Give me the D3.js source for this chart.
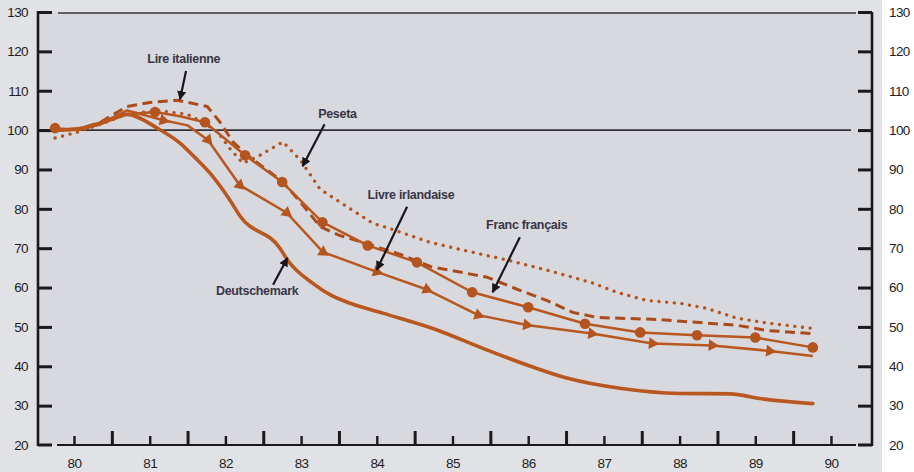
<!DOCTYPE html>
<html><head><meta charset="utf-8">
<script src="https://cdn.jsdelivr.net/npm/d3@7/dist/d3.min.js"></script>
<style>
html,body{margin:0;padding:0;background:#fff;}
svg{display:block;}
</style></head>
<body>
<svg id="c" width="914" height="472"></svg>
<script>
// ---- data (years as decimal, values index 1980 = 100) ----
const yearTicks = [80, 81, 82, 83, 84, 85, 86, 87, 88, 89, 90];
const valueTicks = [20, 30, 40, 50, 60, 70, 80, 90, 100, 110, 120, 130];

const dmT = [79.75, 80.05, 80.35, 80.70, 81.10, 81.40, 81.60, 81.80, 82.05, 82.20, 82.72, 82.82, 83.16, 83.40, 83.65, 84.08, 84.74, 85.46, 86.06, 86.51, 87.21, 88.00, 88.67, 89.06, 89.76];
const dmV = [100, 100.3, 101.8, 104, 100.5, 96.7, 93, 89, 82.5, 78, 70, 67, 61, 58, 56, 53.5, 49.6, 44.1, 39.8, 37, 34.4, 33.1, 33, 31.8, 30.5];

const frT = [79.75, 80.05, 80.35, 80.70, 81.07, 81.40, 81.73, 82.26, 82.75, 83.28, 83.88, 84.53, 85.26, 86.00, 86.75, 87.48, 88.23, 89.00, 89.76];
const frV = [100.5, 100, 101.5, 104, 104.6, 103.5, 102, 93.6, 86.8, 76.6, 70.7, 66.4, 58.8, 55, 50.8, 48.6, 47.9, 47.3, 44.8];
const frMarked = [1, 0, 0, 0, 1, 0, 1, 1, 1, 1, 1, 1, 1, 1, 1, 1, 1, 1, 1];

const ieT = [79.75, 80.05, 80.35, 80.70, 81.18, 81.50, 81.77, 82.19, 82.81, 83.29, 84.00, 84.66, 85.34, 85.98, 86.84, 87.64, 88.43, 89.19, 89.76];
const ieV = [100, 100, 101.5, 105, 102.5, 101.2, 97.5, 86, 79, 69, 64, 59.5, 53, 50.5, 48.3, 45.8, 45.3, 43.9, 42.6];
const ieMarked = [0, 0, 0, 0, 1, 0, 1, 1, 1, 1, 1, 1, 1, 1, 1, 1, 1, 1, 0];

const itT = [79.75, 80.05, 80.35, 80.70, 81.00, 81.36, 81.76, 81.93, 82.10, 82.26, 82.75, 83.00, 83.25, 83.50, 83.91, 84.30, 84.73, 84.97, 85.46, 85.89, 86.25, 86.59, 86.91, 87.70, 88.27, 88.76, 89.15, 89.76];
const itV = [100, 100.2, 102, 106, 107, 107.6, 106, 102, 97, 94, 87, 81.5, 75.5, 73.3, 70.9, 68.5, 65.2, 64.4, 62.6, 59.3, 56.7, 53.7, 52.4, 51.9, 51.1, 50.4, 49.1, 48.3];

const esT = [79.75, 80.05, 80.35, 80.70, 81.10, 81.50, 81.70, 81.90, 82.05, 82.23, 82.42, 82.76, 82.99, 83.25, 83.61, 83.95, 84.17, 84.70, 85.14, 85.72, 86.25, 86.59, 86.86, 87.17, 87.57, 88.01, 88.36, 88.76, 89.15, 89.76];
const esV = [98, 99.5, 101.5, 104, 105, 104, 102, 99.5, 95.5, 91.6, 93.2, 97, 92.4, 85, 80.5, 76.3, 75, 71.5, 69.5, 67, 64.4, 62.6, 61.1, 58.8, 56.7, 56, 54.7, 52.2, 51, 49.6];

// labels: [text, year, value] for text anchor; arrows: [fromYear, fromValue, toYear, toValue]
const labelNames = ["Lire italienne", "Peseta", "Livre irlandaise", "Franc français", "Deutschemark"];
const labelPos = [[81.45, 117.8], [83.48, 103.8], [84.45, 83.4], [85.98, 75.8], [82.42, 59]];
const arrowFrom = [[81.48, 115], [83.31, 101.5], [84.40, 80.5], [85.89, 72.8], [82.63, 60.7]];
const arrowTo = [[81.40, 107.8], [83.02, 90.8], [84.00, 64.5], [85.53, 58.8], [82.82, 67.5]];

// ---- drawing ----
const svg = d3.select("#c");
const x = d3.scaleLinear().domain([80, 90]).range([74, 831]);
const y = d3.scaleLinear().domain([20, 130]).range([445, 12]);
const LEFT = 38, RIGHT = 872, TOP = y(130), BOT = y(20);
const axisCol = "#1c181c";
const lineCol = "#b8571f";

svg.append("rect").attr("x", 0).attr("y", 0).attr("width", 882).attr("height", 472).attr("fill", "#e1e2e6");
svg.append("rect").attr("x", LEFT).attr("y", TOP).attr("width", RIGHT - LEFT).attr("height", BOT - TOP).attr("fill", "#d7d9df");

// reference line at 100
svg.append("line").attr("x1", LEFT).attr("x2", 851).attr("y1", y(100)).attr("y2", y(100))
  .attr("stroke", "#34323a").attr("stroke-width", 1.6);

// frame lines
const frame = svg.append("g").attr("stroke", axisCol).attr("fill", "none");
frame.append("line").attr("x1", LEFT).attr("x2", LEFT).attr("y1", TOP - 1).attr("y2", BOT + 1).attr("stroke-width", 2.6);
frame.append("line").attr("x1", RIGHT).attr("x2", RIGHT).attr("y1", TOP).attr("y2", BOT + 1).attr("stroke-width", 2.6);
frame.append("line").attr("x1", 57).attr("x2", 856).attr("y1", BOT).attr("y2", BOT).attr("stroke-width", 2);
frame.append("line").attr("x1", LEFT).attr("x2", 52).attr("y1", BOT).attr("y2", BOT).attr("stroke-width", 3);
frame.append("line").attr("x1", 858).attr("x2", RIGHT).attr("y1", BOT).attr("y2", BOT).attr("stroke-width", 3);
frame.append("line").attr("x1", 58).attr("x2", 856).attr("y1", TOP + 1).attr("y2", TOP + 1).attr("stroke-width", 1.5).attr("stroke", "#3a373d");

const fontFam = "'Liberation Sans', Arial, sans-serif";
function styleAxis(g) {
  g.select(".domain").remove();
  g.selectAll(".tick line").attr("stroke", axisCol).attr("stroke-width", 3);
  g.selectAll(".tick text").attr("fill", "#1e1e22").style("font-family", fontFam)
    .style("font-size", "13.5px").style("letter-spacing", "-0.6px");
}

// left axis (ticks inside)
svg.append("g").attr("transform", `translate(${LEFT},0)`)
  .call(d3.axisLeft(y).tickValues(valueTicks.filter(v => v > 20)).tickSize(-14).tickPadding(10).tickFormat(d3.format("d")))
  .call(styleAxis);
svg.append("g").attr("transform", `translate(${LEFT},0)`)
  .call(d3.axisLeft(y).tickValues([20]).tickSize(0).tickPadding(10).tickFormat(d3.format("d")))
  .call(styleAxis);
// right axis
svg.append("g").attr("transform", `translate(${RIGHT},0)`)
  .call(d3.axisRight(y).tickValues(valueTicks.filter(v => v > 20)).tickSize(-14).tickPadding(17).tickFormat(d3.format("d")))
  .call(styleAxis);
svg.append("g").attr("transform", `translate(${RIGHT},0)`)
  .call(d3.axisRight(y).tickValues([20]).tickSize(0).tickPadding(17).tickFormat(d3.format("d")))
  .call(styleAxis);
// bottom axis: minor ticks with labels, major ticks at half years
svg.append("g").attr("transform", `translate(0,${BOT})`)
  .call(d3.axisBottom(x).tickValues(yearTicks).tickSize(-9).tickPadding(13).tickFormat(d3.format("d")))
  .call(styleAxis)
  .call(g => g.selectAll(".tick line").attr("stroke-width", 2.4));
svg.append("g").attr("transform", `translate(0,${BOT})`)
  .call(d3.axisBottom(x).tickValues(yearTicks.slice(0, -1).map(v => v + 0.5)).tickSize(-14).tickFormat(""))
  .call(styleAxis);

// series
const mk = (T, V) => T.map((t, i) => [t, V[i]]);
const line = d3.line().x(d => x(d[0])).y(d => y(d[1])).curve(d3.curveLinear);
const dm = mk(dmT, dmV), fr = mk(frT, frV), ie = mk(ieT, ieV), it = mk(itT, itV), es = mk(esT, esV);

const plot = svg.append("g").attr("fill", "none").attr("stroke-linejoin", "round");
plot.append("path").datum(es).attr("d", line).attr("stroke", "#b3531e").attr("stroke-width", 3.3)
  .attr("stroke-dasharray", "0.1,7.6").attr("stroke-linecap", "round");
plot.append("path").datum(it).attr("d", line).attr("stroke", "#ac4a1a").attr("stroke-width", 3)
  .attr("stroke-dasharray", "10,5.5");
plot.append("path").datum(dm).attr("d", d3.line().x(d => x(d[0])).y(d => y(d[1])).curve(d3.curveMonotoneX))
  .attr("stroke", lineCol).attr("stroke-width", 3.6).attr("stroke-linecap", "round");
plot.append("path").datum(ie).attr("d", line).attr("stroke", lineCol).attr("stroke-width", 2.5);
plot.append("path").datum(fr).attr("d", line).attr("stroke", lineCol).attr("stroke-width", 2.5);

// circle markers (Franc français)
svg.append("g").selectAll("circle").data(fr.filter((d, i) => frMarked[i])).join("circle")
  .attr("cx", d => x(d[0])).attr("cy", d => y(d[1])).attr("r", 5.3).attr("fill", "#b4541e");

// triangle markers (Livre irlandaise), oriented along the line
const tri = d3.symbol().type(d3.symbolTriangle).size(60);
svg.append("g").selectAll("path").data(ie.map((d, i) => ({d, i})).filter(o => ieMarked[o.i])).join("path")
  .attr("d", tri)
  .attr("fill", "#b4541e")
  .attr("transform", o => {
    const p = ie[Math.max(0, o.i - 1)], n = ie[Math.min(ie.length - 1, o.i + 1)];
    const ang = Math.atan2(y(n[1]) - y(p[1]), x(n[0]) - x(p[0])) * 180 / Math.PI;
    return `translate(${x(o.d[0])},${y(o.d[1])}) rotate(${ang + 90})`;
  });

// annotations
const defs = svg.append("defs");
defs.append("marker").attr("id", "ah").attr("viewBox", "0 0 10 10").attr("refX", 9).attr("refY", 5)
  .attr("markerWidth", 4.2).attr("markerHeight", 4.2).attr("orient", "auto")
  .append("path").attr("d", "M0,0 L10,5 L0,10 z").attr("fill", "#17161b");
const ann = svg.append("g");
arrowFrom.forEach((f, i) => {
  ann.append("line").attr("x1", x(f[0])).attr("y1", y(f[1]))
    .attr("x2", x(arrowTo[i][0])).attr("y2", y(arrowTo[i][1]))
    .attr("stroke", "#17161b").attr("stroke-width", 2.2).attr("marker-end", "url(#ah)");
});
ann.selectAll("text").data(labelNames).join("text")
  .attr("x", (d, i) => x(labelPos[i][0])).attr("y", (d, i) => y(labelPos[i][1]))
  .attr("text-anchor", "middle").attr("dominant-baseline", "middle")
  .style("font-family", fontFam).style("font-weight", "bold").style("font-size", "12.5px")
  .style("letter-spacing", "-0.3px").attr("fill", "#3a3545")
  .text(d => d);
</script>
</body></html>
